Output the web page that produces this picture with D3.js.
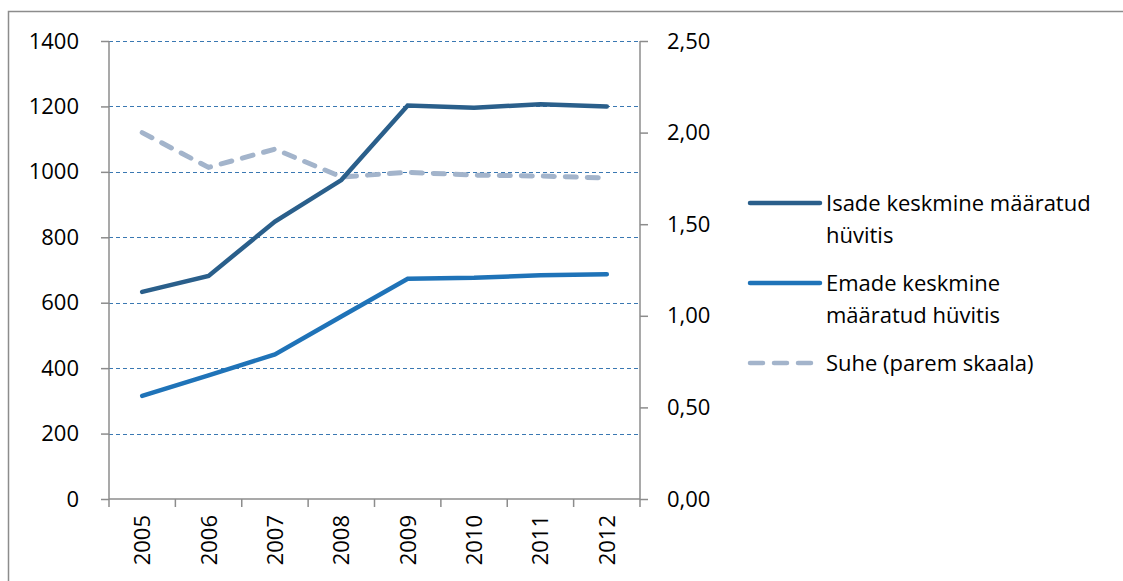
<!DOCTYPE html>
<html>
<head>
<meta charset="utf-8">
<script src="https://cdn.jsdelivr.net/npm/d3@7"></script>
<style>
  body { margin: 0; background: #fff; }
  svg text { font-family: "Open Sans", "Noto Sans", sans-serif; fill: #000; }
</style>
</head>
<body>
<svg width="1123" height="581"></svg>
<script>
// data
var years = ["2005", "2006", "2007", "2008", "2009", "2010", "2011", "2012"];
var isade = [633, 682, 848, 975, 1203, 1196, 1207, 1200];
var emade = [315, 378, 442, 558, 673, 676, 684, 687];
var suhe = [2.0, 1.81, 1.91, 1.758, 1.783, 1.768, 1.763, 1.752];
var leftTicks = [0, 200, 400, 600, 800, 1000, 1200, 1400];
var rightTicks = [0, 0.5, 1, 1.5, 2, 2.5];
var legendNames = [
  ["Isade keskmine määratud", "hüvitis"],
  ["Emade keskmine", "määratud hüvitis"],
  ["Suhe (parem skaala)"]
];

var colors = ["#2a5f8b", "#1f73b8", "#a3b4cb"];
var fontSize = 22;
var margin = { top: 41, left: 109 },
  width = 640 - 109,
  height = 499 - 41;

var svg = d3.select("svg");

// outer frame
svg.append("rect")
  .attr("x", 8.5).attr("y", 11.5)
  .attr("width", 1200).attr("height", 700)
  .attr("fill", "none")
  .attr("stroke", "#8c8c8c")
  .attr("stroke-width", 1.5);

var g = svg.append("g")
  .attr("transform", "translate(" + margin.left + "," + margin.top + ")");

var xBand = d3.scaleBand().domain(years).range([0, width]);
var x = function(d) { return xBand(d) + xBand.bandwidth() / 2; };
var yL = d3.scaleLinear().domain([0, 1400]).range([height, 0]);
var yR = d3.scaleLinear().domain([0, 2.5]).range([height, 0]);

// gridlines
g.selectAll(".grid")
  .data(leftTicks.filter(function(d) { return d > 0; }))
  .enter()
  .append("line")
  .attr("class", "grid")
  .attr("x1", 0).attr("x2", width)
  .attr("y1", function(d) { return Math.round(yL(d)) + 0.5; })
  .attr("y2", function(d) { return Math.round(yL(d)) + 0.5; })
  .attr("stroke", "#3a78b2")
  .attr("stroke-width", 1.2)
  .attr("stroke-dasharray", "4,3");

var axisColor = "#8c8c8c";

// left axis
var leftAxis = g.append("g")
  .call(d3.axisLeft(yL).tickValues(leftTicks).tickSize(8).tickPadding(22).tickFormat(d3.format("d")));
leftAxis.selectAll("line, path").attr("stroke", axisColor).attr("stroke-width", 1.5);
leftAxis.select("path").attr("d", "M0," + height + "V0");
leftAxis.selectAll("text").attr("font-size", fontSize).attr("fill", "#000");

// right axis
var rightAxis = g.append("g")
  .attr("transform", "translate(" + width + ",0)")
  .call(d3.axisRight(yR).tickValues(rightTicks).tickSize(8).tickPadding(19)
    .tickFormat(function(d) { return d3.format(".2f")(d).replace(".", ","); }));
rightAxis.selectAll("line, path").attr("stroke", axisColor).attr("stroke-width", 1.5);
rightAxis.select("path").attr("d", "M0," + height + "V0");
rightAxis.selectAll("text").attr("font-size", fontSize).attr("fill", "#000");

// bottom axis: ticks at band boundaries
var bottom = g.append("g").attr("transform", "translate(0," + height + ")");
bottom.append("line")
  .attr("x1", 0).attr("x2", width)
  .attr("stroke", axisColor).attr("stroke-width", 1.5);
bottom.selectAll(".xtick")
  .data(years.concat(["end"]))
  .enter()
  .append("line")
  .attr("x1", function(d, i) { return i * xBand.step(); })
  .attr("x2", function(d, i) { return i * xBand.step(); })
  .attr("y1", 0).attr("y2", 8)
  .attr("stroke", axisColor).attr("stroke-width", 1.5);
bottom.selectAll(".xlabel")
  .data(years)
  .enter()
  .append("text")
  .attr("transform", function(d) { return "translate(" + (x(d) + 8) + ",16) rotate(-90)"; })
  .attr("text-anchor", "end")
  .attr("font-size", fontSize)
  .text(function(d) { return d; });

// lines
var lineL = d3.line()
  .x(function(d, i) { return x(years[i]); })
  .y(function(d) { return yL(d); });
var lineR = d3.line()
  .x(function(d, i) { return x(years[i]); })
  .y(function(d) { return yR(d); });

g.append("path")
  .attr("d", lineR(suhe))
  .attr("fill", "none")
  .attr("stroke", colors[2])
  .attr("stroke-width", 5)
  .attr("stroke-linecap", "round")
  .attr("stroke-dasharray", "11,11");

g.append("path")
  .attr("d", lineL(emade))
  .attr("fill", "none")
  .attr("stroke", colors[1])
  .attr("stroke-width", 4.5)
  .attr("stroke-linecap", "round");

g.append("path")
  .attr("d", lineL(isade))
  .attr("fill", "none")
  .attr("stroke", colors[0])
  .attr("stroke-width", 4.5)
  .attr("stroke-linecap", "round");

// legend
var legendY = [203, 283, 363];
var legend = svg.append("g");
legendNames.forEach(function(names, i) {
  var item = legend.append("g").attr("transform", "translate(750," + legendY[i] + ")");
  item.append("line")
    .attr("x1", 0).attr("x2", i === 2 ? 62 : 70)
    .attr("stroke", colors[i])
    .attr("stroke-width", 4.5)
    .attr("stroke-linecap", "round")
    .attr("stroke-dasharray", i === 2 ? "13,11" : null);
  item.selectAll("text")
    .data(names)
    .enter()
    .append("text")
    .attr("x", 76)
    .attr("y", function(d, j) { return 8 + j * 32; })
    .attr("font-size", fontSize)
    .text(function(d) { return d; });
});
</script>
</body>
</html>
